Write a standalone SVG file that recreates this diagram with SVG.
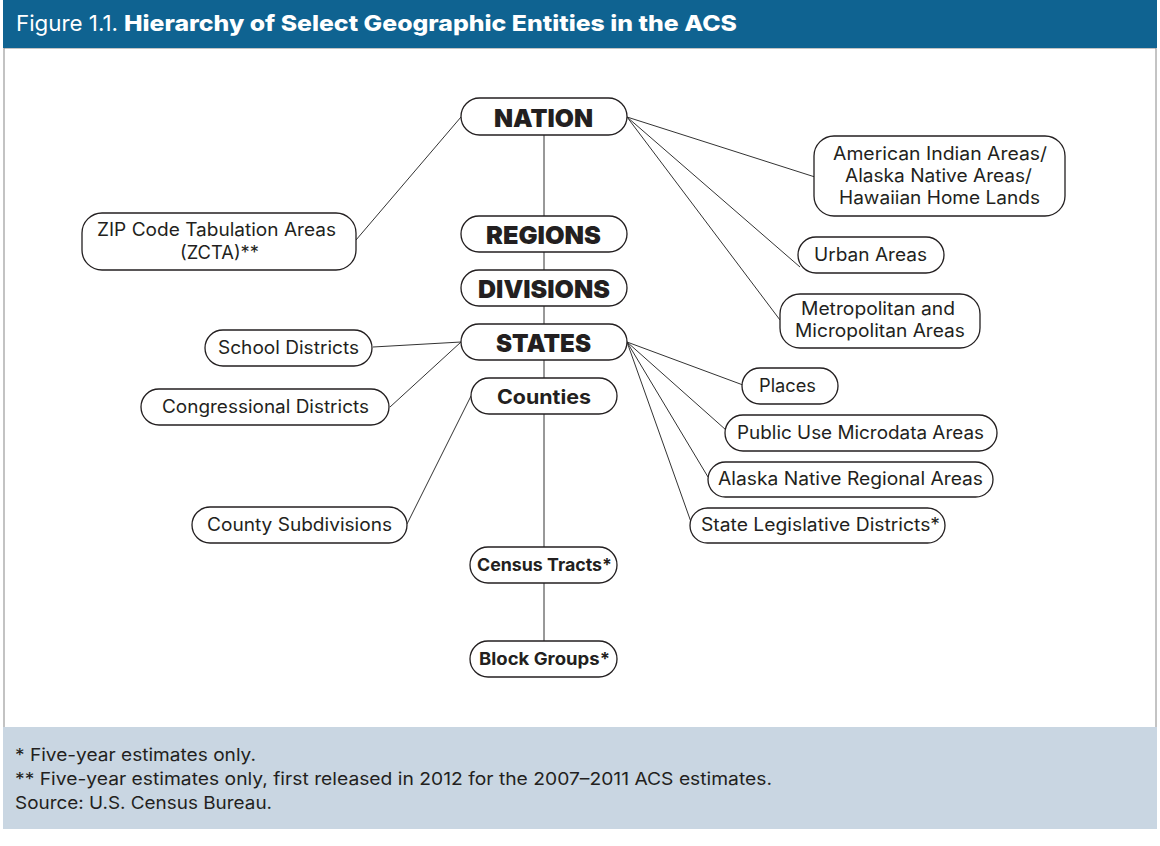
<svg xmlns="http://www.w3.org/2000/svg" width="1160" height="846" viewBox="0 0 1160 846">
<style>
.box{fill:#fff;stroke:#231f20;stroke-width:1.3}
.t{font-family:Inter,"Liberation Sans",sans-serif;font-size:18px;fill:#231f20;text-anchor:middle}
.h{font-family:Inter,"Liberation Sans",sans-serif;font-weight:900;font-size:25px;fill:#231f20;text-anchor:middle}
.b{font-family:Inter,"Liberation Sans",sans-serif;font-weight:700;fill:#231f20;text-anchor:middle}
.f{font-family:Inter,"Liberation Sans",sans-serif;font-size:17.5px;fill:#231f20}
.ti{font-family:Inter,"Liberation Sans",sans-serif;font-size:22px;fill:#fff}
.c line{stroke:#333;stroke-width:1}
</style>
<rect x="0" y="0" width="1160" height="846" fill="#fff"/>
<rect x="4" y="48" width="1152" height="680" fill="#fff" stroke="#888" stroke-width="1"/>
<rect x="3" y="0" width="1154" height="48" fill="#0f6391"/>
<text class="ti" x="16" y="31" textLength="102" lengthAdjust="spacingAndGlyphs">Figure 1.1.</text>
<text class="ti" x="124" y="31" font-weight="800" textLength="613" lengthAdjust="spacingAndGlyphs">Hierarchy of Select Geographic Entities in the ACS</text>
<rect x="3" y="727" width="1154" height="102" fill="#c9d6e2"/>
<text class="f" x="15" y="761" textLength="241" lengthAdjust="spacingAndGlyphs">* Five-year estimates only.</text>
<text class="f" x="15" y="785" textLength="757" lengthAdjust="spacingAndGlyphs">** Five-year estimates only, first released in 2012 for the 2007–2011 ACS estimates.</text>
<text class="f" x="15" y="809" textLength="257" lengthAdjust="spacingAndGlyphs">Source: U.S. Census Bureau.</text>

<g id="connectors" class="c">
<line x1="544" y1="135" x2="544" y2="216"/>
<line x1="544" y1="252" x2="544" y2="270"/>
<line x1="544" y1="306" x2="544" y2="324"/>
<line x1="544" y1="360" x2="544" y2="378"/>
<line x1="544" y1="414" x2="544" y2="547"/>
<line x1="544" y1="583" x2="544" y2="641"/>
<line x1="461" y1="117" x2="356" y2="240"/>
<line x1="627" y1="117" x2="815" y2="177"/>
<line x1="627" y1="117" x2="800" y2="267"/>
<line x1="627" y1="117" x2="780" y2="320"/>
<line x1="461" y1="342" x2="373" y2="347"/>
<line x1="461" y1="342" x2="390" y2="407"/>
<line x1="471" y1="396" x2="407" y2="524"/>
<line x1="627" y1="342" x2="743" y2="385"/>
<line x1="627" y1="342" x2="726" y2="430"/>
<line x1="627" y1="342" x2="708" y2="477"/>
<line x1="627" y1="342" x2="691" y2="522"/>
</g>

<g id="nation"><rect class="box" x="461" y="98" width="166" height="37" rx="18.5"/><text class="h" x="543.5" y="127" textLength="99" lengthAdjust="spacingAndGlyphs">NATION</text></g>
<g id="regions"><rect class="box" x="461" y="216" width="166" height="36" rx="18"/><text class="h" x="543.5" y="244" textLength="115" lengthAdjust="spacingAndGlyphs">REGIONS</text></g>
<g id="divisions"><rect class="box" x="461" y="270" width="166" height="36" rx="18"/><text class="h" x="544" y="298" textLength="132" lengthAdjust="spacingAndGlyphs">DIVISIONS</text></g>
<g id="states"><rect class="box" x="461" y="324" width="166" height="36" rx="18"/><text class="h" x="543.5" y="352" textLength="95" lengthAdjust="spacingAndGlyphs">STATES</text></g>
<g id="counties"><rect class="box" x="471" y="378" width="146" height="36" rx="18"/><text class="b" x="544" y="403.5" font-size="20" textLength="94" lengthAdjust="spacingAndGlyphs">Counties</text></g>
<g id="census-tracts"><rect class="box" x="470" y="547" width="147" height="36" rx="18"/><text class="b" x="544.5" y="571" font-size="17.5" textLength="135" lengthAdjust="spacingAndGlyphs">Census Tracts*</text></g>
<g id="block-groups"><rect class="box" x="470" y="641" width="147" height="36" rx="18"/><text class="b" x="544.5" y="665" font-size="17.5" textLength="131" lengthAdjust="spacingAndGlyphs">Block Groups*</text></g>

<g id="zcta"><rect class="box" x="82" y="213" width="274" height="57" rx="20"/><text class="t" x="216.5" y="236" textLength="239" lengthAdjust="spacingAndGlyphs">ZIP Code Tabulation Areas</text><text class="t" x="219.5" y="259" textLength="79" lengthAdjust="spacingAndGlyphs">(ZCTA)**</text></g>
<g id="school-districts"><rect class="box" x="205" y="330" width="167" height="36" rx="18"/><text class="t" x="288.5" y="354" textLength="141" lengthAdjust="spacingAndGlyphs">School Districts</text></g>
<g id="congressional-districts"><rect class="box" x="141" y="389" width="248" height="36" rx="18"/><text class="t" x="265.5" y="413" textLength="207" lengthAdjust="spacingAndGlyphs">Congressional Districts</text></g>
<g id="county-subdivisions"><rect class="box" x="192" y="507" width="215" height="36" rx="18"/><text class="t" x="299.5" y="531" textLength="185" lengthAdjust="spacingAndGlyphs">County Subdivisions</text></g>

<g id="aian"><rect class="box" x="814" y="136" width="251" height="80" rx="20"/><text class="t" x="940" y="160" textLength="214" lengthAdjust="spacingAndGlyphs">American Indian Areas/</text><text class="t" x="938.5" y="182" textLength="187" lengthAdjust="spacingAndGlyphs">Alaska Native Areas/</text><text class="t" x="939.5" y="204" textLength="201" lengthAdjust="spacingAndGlyphs">Hawaiian Home Lands</text></g>
<g id="urban-areas"><rect class="box" x="798" y="237" width="146" height="36" rx="18"/><text class="t" x="870.5" y="261" textLength="113" lengthAdjust="spacingAndGlyphs">Urban Areas</text></g>
<g id="metro"><rect class="box" x="780" y="294" width="200" height="54" rx="20"/><text class="t" x="878" y="315" textLength="154" lengthAdjust="spacingAndGlyphs">Metropolitan and</text><text class="t" x="880" y="337" textLength="170" lengthAdjust="spacingAndGlyphs">Micropolitan Areas</text></g>
<g id="places"><rect class="box" x="742" y="368" width="96" height="36" rx="18"/><text class="t" x="787.5" y="392" textLength="57" lengthAdjust="spacingAndGlyphs">Places</text></g>
<g id="puma"><rect class="box" x="725" y="415" width="272" height="36" rx="18"/><text class="t" x="860.5" y="439" textLength="247" lengthAdjust="spacingAndGlyphs">Public Use Microdata Areas</text></g>
<g id="anra"><rect class="box" x="708" y="462" width="285" height="35" rx="17.5"/><text class="t" x="850.5" y="485" textLength="265" lengthAdjust="spacingAndGlyphs">Alaska Native Regional Areas</text></g>
<g id="sld"><rect class="box" x="690" y="508" width="255" height="35" rx="17.5"/><text class="t" x="820.5" y="531" textLength="239" lengthAdjust="spacingAndGlyphs">State Legislative Districts*</text></g>
</svg>
